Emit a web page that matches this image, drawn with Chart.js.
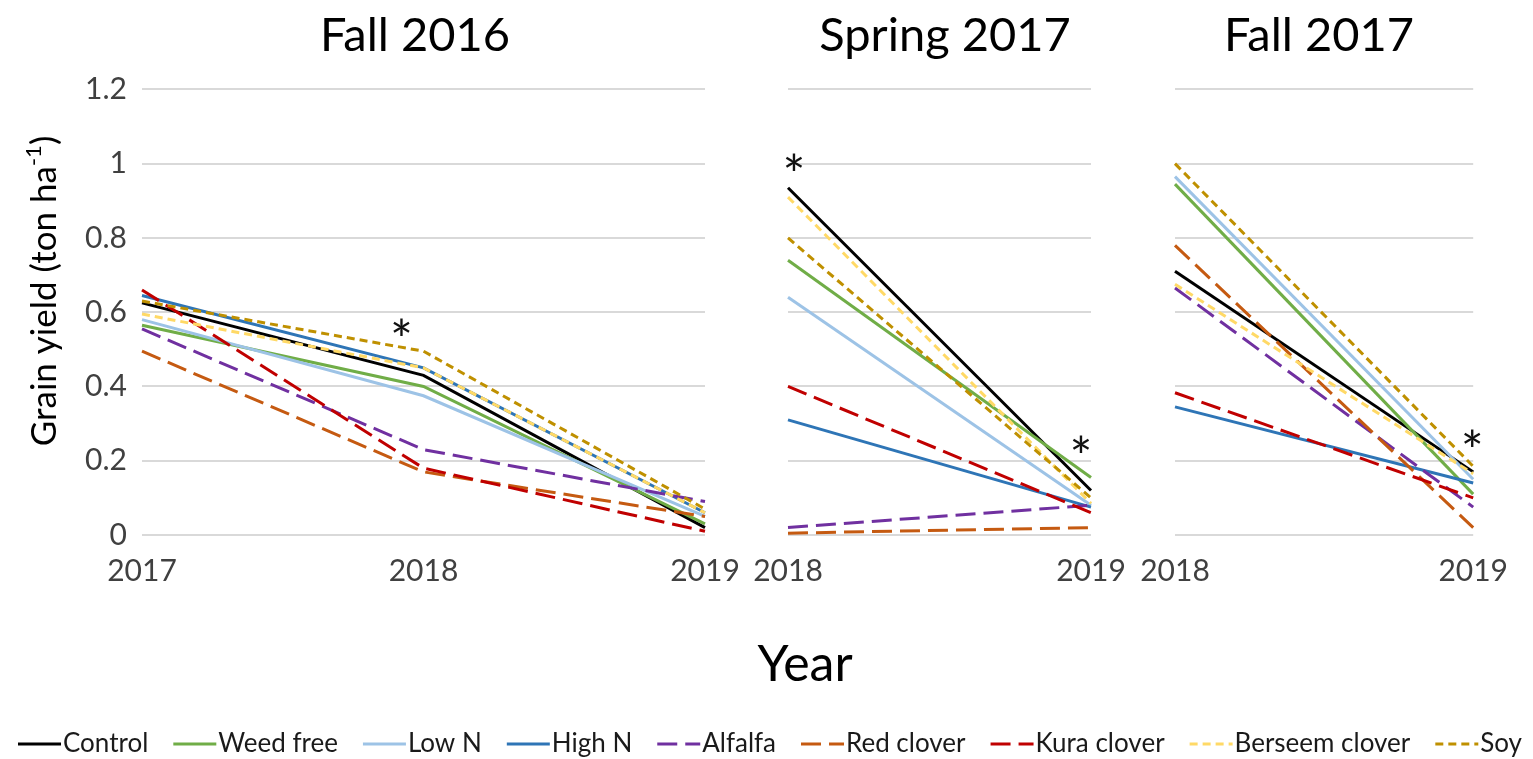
<!DOCTYPE html>
<html><head><meta charset="utf-8">
<script src="https://cdn.jsdelivr.net/npm/chart.js@4.4.1/dist/chart.umd.min.js"></script>
<style>
html,body{margin:0;padding:0;background:#fff;width:1533px;height:759px;overflow:hidden;position:relative;}
canvas{position:absolute;}
</style></head><body>
<canvas id="p1" width="830" height="600" style="left:0px;top:0px"></canvas>
<canvas id="p2" width="410" height="600" style="left:740px;top:0px"></canvas>
<canvas id="p3" width="398" height="600" style="left:1120px;top:0px"></canvas>
<canvas id="lg" width="1600" height="159" style="left:-34px;top:608px"></canvas>
<script>
// ---------- data ----------
const seriesNames = ['Control','Weed free','Low N','High N','Alfalfa','Red clover','Kura clover','Berseem clover','Soy'];
const fall2016Years = ['2017','2018','2019'];
const spring2017Years = ['2018','2019'];
const fall2017Years = ['2018','2019'];
const yTicks = [0, 0.2, 0.4, 0.6, 0.8, 1, 1.2];

// Fall 2016 (2017, 2018, 2019)
const f16Control  = [0.625, 0.43, 0.02];
const f16WeedFree = [0.565, 0.40, 0.03];
const f16LowN     = [0.58, 0.375, 0.05];
const f16HighN    = [0.645, 0.45, 0.06];
const f16Alfalfa  = [0.555, 0.23, 0.09];
const f16RedClover  = [0.495, 0.17, 0.05];
const f16KuraClover = [0.66, 0.18, 0.01];
const f16Berseem  = [0.595, 0.45, 0.06];
const f16Soy      = [0.63, 0.495, 0.07];

// Spring 2017 (2018, 2019)
const s17Control  = [0.935, 0.12];
const s17WeedFree = [0.74, 0.155];
const s17LowN     = [0.64, 0.08];
const s17HighN    = [0.31, 0.075];
const s17Alfalfa  = [0.02, 0.08];
const s17RedClover  = [0.005, 0.02];
const s17KuraClover = [0.40, 0.06];
const s17Berseem  = [0.91, 0.085];
const s17Soy      = [0.80, 0.10];

// Fall 2017 (2018, 2019)
const f17Control  = [0.71, 0.17];
const f17WeedFree = [0.945, 0.11];
const f17LowN     = [0.965, 0.15];
const f17HighN    = [0.345, 0.14];
const f17Alfalfa  = [0.665, 0.075];
const f17RedClover  = [0.78, 0.02];
const f17KuraClover = [0.383, 0.10];
const f17Berseem  = [0.675, 0.165];
const f17Soy      = [1.0, 0.185];

// significance marks (year, value)
const f16Stars = [{year:'2018', value:0.56}];
const s17Stars = [{year:'2018', value:1.005}, {year:'2019', value:0.246}];
const f17Stars = [{year:'2019', value:0.262}];

// ---------- styles ----------
const FONT = 'Lato, "Open Sans", sans-serif';
const seriesColors = ['#000000','#70ad47','#9dc3e6','#2e75b6','#7030a0','#c55a11','#c00000','#ffd966','#bf9000'];
const seriesDash = [[],[],[],[],[20,8],[20,8],[20,8],[8,5],[8,5]];

const fall2016Values = [f16Control,f16WeedFree,f16LowN,f16HighN,f16Alfalfa,f16RedClover,f16KuraClover,f16Berseem,f16Soy];
const spring2017Values = [s17Control,s17WeedFree,s17LowN,s17HighN,s17Alfalfa,s17RedClover,s17KuraClover,s17Berseem,s17Soy];
const fall2017Values = [f17Control,f17WeedFree,f17LowN,f17HighN,f17Alfalfa,f17RedClover,f17KuraClover,f17Berseem,f17Soy];

function makeDatasets(values, showLine) {
  return values.map((v, i) => ({
    label: seriesNames[i], data: v,
    borderColor: seriesColors[i], backgroundColor: seriesColors[i],
    borderDash: seriesDash[i], borderWidth: 3,
    pointRadius: 0, pointHoverRadius: 0, pointStyle: 'line',
    tension: 0, fill: false, showLine: showLine,
    order: values.length - i
  }));
}

const starPlugin = {
  id: 'stars',
  afterDatasetsDraw(chart, args, opts) {
    const marks = opts.marks || [];
    const ctx = chart.ctx, xs = chart.scales.x, ys = chart.scales.y;
    ctx.save();
    ctx.font = '54px ' + FONT;
    ctx.fillStyle = '#111';
    ctx.textAlign = 'center';
    ctx.textBaseline = 'alphabetic';
    const m = ctx.measureText('*');
    const shift = (m.actualBoundingBoxAscent - m.actualBoundingBoxDescent) / 2;
    marks.forEach((mk, i) => {
      const px = xs.getPixelForValue(xs.getLabels().indexOf(mk.year)) + (opts.dx[i] || 0);
      const py = ys.getPixelForValue(mk.value);
      ctx.fillText('*', px, py + shift);
    });
    ctx.restore();
  }
};

const yTitlePlugin = {
  id: 'ytitle',
  afterDraw(chart, args, opts) {
    if (!opts.show) return;
    const ctx = chart.ctx;
    const size = opts.size;
    ctx.save();
    ctx.translate(opts.x, opts.y);
    ctx.rotate(-Math.PI / 2);
    ctx.fillStyle = '#000';
    ctx.textBaseline = 'middle';
    ctx.textAlign = 'left';
    const main = size + 'px ' + FONT, sup = Math.round(size * 0.62) + 'px ' + FONT;
    ctx.font = main;
    const w1 = ctx.measureText(opts.text).width, w3 = ctx.measureText(opts.end).width;
    ctx.font = sup;
    const w2 = ctx.measureText(opts.sup).width;
    let x = -(w1 + w2 + w3) / 2;
    ctx.font = main; ctx.fillText(opts.text, x, 0); x += w1;
    ctx.font = sup; ctx.fillText(opts.sup, x, -size * 0.32); x += w2;
    ctx.font = main; ctx.fillText(opts.end, x, 0);
    ctx.restore();
  }
};

function panel(id, title, years, values, stars, starDx, g) {
  return new Chart(document.getElementById(id), {
    type: 'line',
    data: { labels: years, datasets: makeDatasets(values, true) },
    options: {
      responsive: false, animation: false, events: [],
      layout: { padding: { left: g.padL, right: g.padR, top: 0, bottom: 0 } },
      plugins: {
        legend: { display: false }, tooltip: { enabled: false },
        title: { display: true, text: title, color: '#000',
                 font: { family: FONT, size: 47, weight: 'normal' },
                 padding: { top: 8, bottom: 25 } },
        stars: { marks: stars, dx: starDx },
        ytitle: { show: g.showY, x: 45, y: 291, size: 35, text: 'Grain yield (ton ha', sup: '-1', end: ')' }
      },
      scales: {
        x: {
          ticks: { font: { family: FONT, size: 30 }, color: '#404040', padding: 10, maxRotation: 0, autoSkip: false },
          grid: { display: false }, border: { display: false },
          afterFit(s) { s.height = 65; }
        },
        y: {
          min: 0, max: 1.2,
          afterBuildTicks(s) { s.ticks = yTicks.map(v => ({ value: v })); },
          ticks: { display: g.showY, font: { family: FONT, size: 30 }, color: '#404040', padding: 15,
                   callback: v => String(Math.round(v * 10) / 10) },
          grid: { color: '#d9d9d9', lineWidth: 2, drawTicks: false },
          border: { display: false },
          afterFit(s) { s.width = g.yLW; }
        },
        y2: {
          position: 'right', display: true, min: 0, max: 1.2,
          ticks: { display: false }, grid: { display: false }, border: { display: false },
          afterFit(s) { s.width = g.yRW; }
        }
      }
    },
    plugins: [starPlugin, yTitlePlugin]
  });
}

panel('p1', 'Fall 2016', fall2016Years, fall2016Values, f16Stars, [-22], { padL: 0, padR: 0, yLW: 142, yRW: 125, showY: true });
panel('p2', 'Spring 2017', spring2017Years, spring2017Values, s17Stars, [6, -10], { padL: 48, padR: 48, yLW: 0, yRW: 11, showY: false });
panel('p3', 'Fall 2017', fall2017Years, fall2017Values, f17Stars, [-1], { padL: 38, padR: 38, yLW: 17, yRW: 0, showY: false });

// legend samples: dashed line images (line ends 2px before the label text)
const SAMPLE_BW = 32, SAMPLE_LEN = 43, FONT_LG = 26;
function sampleImage(i) {
  const c = document.createElement('canvas');
  const half = SAMPLE_LEN + 4;
  c.width = half * 2; c.height = 8;
  const cx = half;                                   // image center == box center
  const endX = cx + SAMPLE_BW / 2 + FONT_LG / 2 - 2; // just before the text
  const startX = endX - SAMPLE_LEN;
  const g = c.getContext('2d');
  g.strokeStyle = seriesColors[i]; g.lineWidth = 3; g.setLineDash(seriesDash[i]);
  g.beginPath(); g.moveTo(startX, 4); g.lineTo(endX, 4); g.stroke();
  return c;
}
const sampleImages = seriesNames.map((n, i) => sampleImage(i));

// legend + common x title
new Chart(document.getElementById('lg'), {
  type: 'line',
  data: { labels: fall2016Years, datasets: makeDatasets(fall2016Values, false).map(d => Object.assign(d, { order: 0 })) },
  options: {
    responsive: false, animation: false, events: [],
    layout: { padding: { left: 8, right: 0, top: 0, bottom: 0 } },
    plugins: {
      tooltip: { enabled: false }, title: { display: false },
      legend: {
        position: 'bottom',
        labels: {
          usePointStyle: true, pointStyleWidth: SAMPLE_BW, font: { family: FONT, size: FONT_LG }, color: '#1a1a1a', padding: 25,
          generateLabels(chart) {
            const items = Chart.defaults.plugins.legend.labels.generateLabels(chart);
            return items.map(it => { it.pointStyle = sampleImages[it.datasetIndex]; return it; });
          }
        }
      }
    },
    scales: {
      x: { display: true, ticks: { display: false }, grid: { display: false }, border: { display: false },
           title: { display: true, text: 'Year', color: '#000', font: { family: FONT, size: 50 }, padding: { top: 0, bottom: 11 } } },
      y: { display: true, ticks: { display: false }, grid: { display: false }, border: { display: false },
           afterFit(s) { s.width = 70; } }
    }
  }
});
</script>
</body></html>
